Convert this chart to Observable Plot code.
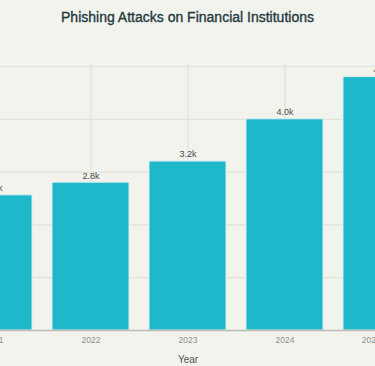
<!DOCTYPE html>
<html>
<head>
<meta charset="utf-8">
<script src="https://cdn.jsdelivr.net/npm/d3@7"></script>
<script src="https://cdn.jsdelivr.net/npm/@observablehq/plot@0.6"></script>
<style>
  html, body { margin: 0; padding: 0; background: #f3f3ee; overflow: hidden; width: 375px; height: 366px; }
  #title { height: 34px; line-height: 34px; text-align: center; font-family: "Liberation Sans", Arial, sans-serif; font-size: 14px; color: #1f3a42; -webkit-text-stroke: 0.35px #1f3a42; }
  #chart svg { display: block; }
</style>
</head>
<body>
<div id="title">Phishing Attacks on Financial Institutions</div>
<div id="chart"></div>
<script>
const years = ["2021", "2022", "2023", "2024", "2025 (est.)"];
const attacks = [2560, 2800, 3200, 4000, 4800];
const yTicks = [0, 1000, 2000, 3000, 4000, 5000];

const data = years.map((year, i) => ({ year, value: attacks[i] }));
const fmt = v => (v / 1000).toFixed(1) + "k";

const chart = Plot.plot({
  width: 375,
  height: 332,
  marginLeft: 0,
  marginRight: 0,
  marginTop: 29,
  marginBottom: 36,
  style: { background: "transparent", overflow: "hidden", fontFamily: "'Liberation Sans', Arial, sans-serif" },
  x: { type: "band", domain: years, range: [-65, 440], padding: 0.206 },
  y: { domain: [0, 5000], range: [296, 32] },
  marks: [
    Plot.gridY(yTicks, { stroke: "#e2e2db", strokeOpacity: 1, strokeWidth: 1.2 }),
    Plot.gridX(years, { stroke: "#e2e2db", strokeOpacity: 1, strokeWidth: 1.2 }),
    Plot.barY(data, { x: "year", y: "value", fill: "#1fb8ca", stroke: "#d9eeee", strokeWidth: 1 }),
    Plot.ruleY([0], { stroke: "#bdbdb6", strokeWidth: 1.5 }),
    Plot.text(data, { x: "year", y: "value", text: d => fmt(d.value), dy: -7, fontSize: 9, fill: "#444c4f" }),
    Plot.axisX({ tickSize: 0, tickPadding: 6, fontSize: 8.5, color: "#8e8e8e", label: "Year", labelAnchor: "center", labelOffset: 32, labelArrow: "none" }),
    Plot.axisY({ ticks: [], label: null, tickSize: 0 })
  ]
});
document.getElementById("chart").append(chart);
chart.querySelectorAll("[aria-label='x-axis label']").forEach(el => { el.setAttribute("fill", "#4a5558"); el.style.fontSize = "10px"; });
</script>
</body>
</html>
